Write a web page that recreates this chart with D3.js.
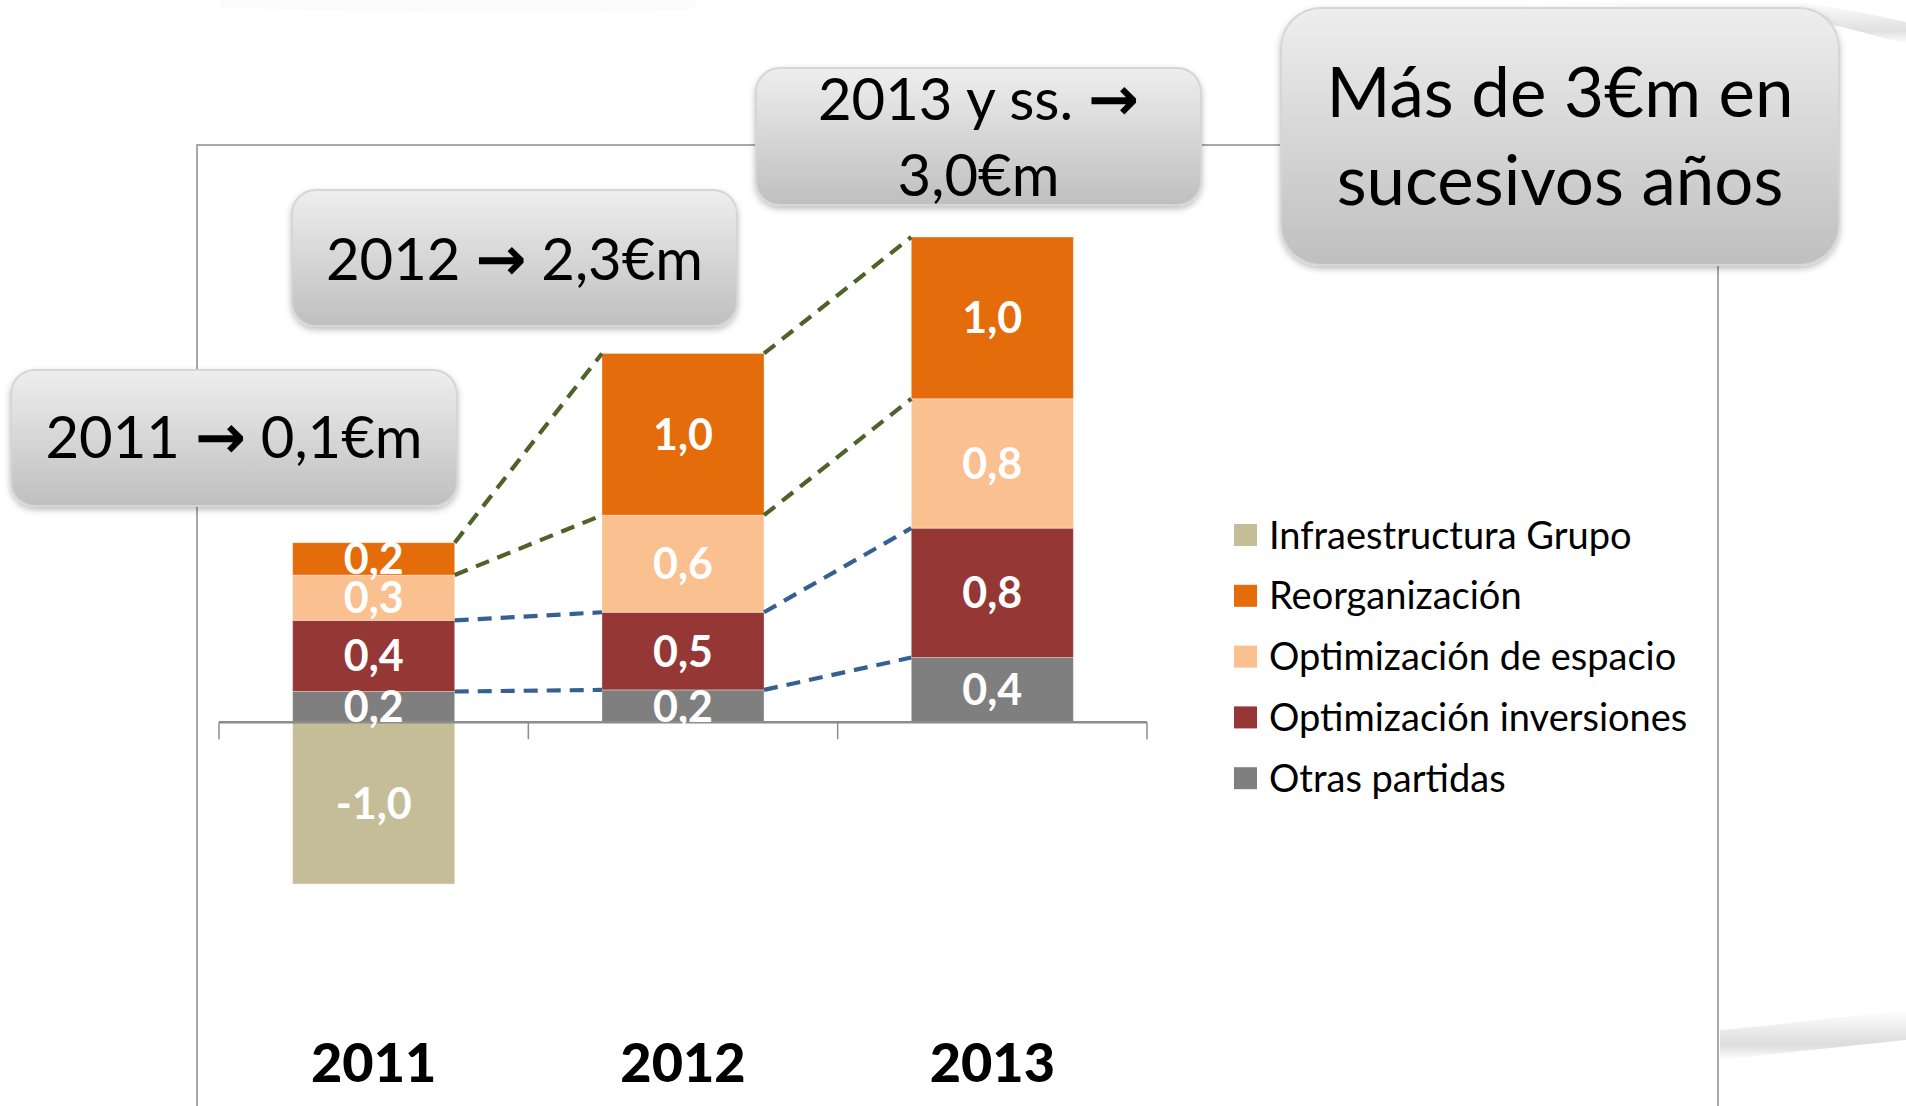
<!DOCTYPE html>
<html>
<head>
<meta charset="utf-8">
<script src="https://cdn.jsdelivr.net/npm/d3@7"></script>
<style>
  html, body { margin: 0; padding: 0; background: #ffffff; }
  svg { display: block; }
</style>
</head>
<body>
<svg id="chart" width="1906" height="1106"></svg>
<script>
// ---------------- DATA ----------------
const years = ["2011", "2012", "2013"];
const seriesNames = ["Otras partidas", "Optimización inversiones", "Optimización de espacio", "Reorganización", "Infraestructura Grupo"];
const otrasPartidas          = [0.19, 0.20, 0.40];
const optimizacionInversiones = [0.44, 0.48, 0.80];
const optimizacionEspacio    = [0.28, 0.60, 0.80];
const reorganizacion         = [0.20, 1.00, 1.00];
const infraestructuraGrupo   = [-1.00, 0.00, 0.00];
const legendOrder = ["Infraestructura Grupo", "Reorganización", "Optimización de espacio", "Optimización inversiones", "Otras partidas"];
const seriesColors = ["#7f7f7f", "#953735", "#fac090", "#e46c0a", "#c4bd97"];
const connectorColors = ["#376092", "#376092", "#4f6228", "#4f6228"];
const yDomain = [-1, 3];
const callouts = [
  { lines: [["2011 ", "→", " 0,1€m"]] },
  { lines: [["2012 ", "→", " 2,3€m"]] },
  { lines: [["2013 y ss. ", "→", ""], ["3,0€m", "", ""]] },
  { lines: [["Más de 3€m en", "", ""], ["sucesivos años", "", ""]] }
];

// ---------------- BUILD ----------------
const valuesByName = {
  "Otras partidas": otrasPartidas,
  "Optimización inversiones": optimizacionInversiones,
  "Optimización de espacio": optimizacionEspacio,
  "Reorganización": reorganizacion,
  "Infraestructura Grupo": infraestructuraGrupo
};
const table = years.map((y, i) => {
  const row = { year: y };
  seriesNames.forEach(n => row[n] = valuesByName[n][i]);
  return row;
});
const color = d3.scaleOrdinal().domain(seriesNames).range(seriesColors);

const svg = d3.select("#chart");
const defs = svg.append("defs");

const FONT = "Lato, 'Open Sans', sans-serif";

// background
svg.append("rect").attr("width", 1906).attr("height", 1106).attr("fill", "#fff");

// decorative swooshes
const g1 = defs.append("linearGradient").attr("id", "sw1").attr("x1", 0).attr("y1", 0).attr("x2", 0).attr("y2", 1);
g1.append("stop").attr("offset", "0%").attr("stop-color", "#ffffff");
g1.append("stop").attr("offset", "70%").attr("stop-color", "#d8d8d8");
g1.append("stop").attr("offset", "100%").attr("stop-color", "#ffffff");
svg.append("path")
  .attr("d", "M1720,1030 C1790,1024 1850,1016 1906,1010 L1906,1040 C1850,1046 1790,1052 1720,1060 Z")
  .attr("fill", "url(#sw1)").attr("opacity", 0.9);
svg.append("path")
  .attr("d", "M1470,0 L1780,0 C1830,6 1870,14 1906,22 L1906,44 C1870,34 1830,24 1800,16 C1700,8 1600,4 1470,0 Z")
  .attr("fill", "url(#sw1)").attr("opacity", 0.8);
svg.append("path")
  .attr("d", "M220,0 L700,0 L690,10 C520,14 380,12 220,8 Z")
  .attr("fill", "#f8f8f8").attr("opacity", 0.6);

// plot frame
svg.append("rect")
  .attr("x", 197).attr("y", 145).attr("width", 1521).attr("height", 1100)
  .attr("fill", "none").attr("stroke", "#8c8c8c").attr("stroke-width", 1.5);

// scales
const x = d3.scaleBand().domain(years).range([219, 1147]).paddingInner(0.476).paddingOuter(0.238);
const y = d3.scaleLinear().domain(yDomain).range([884, 237]);

// stack
const stack = d3.stack().keys(seriesNames).offset(d3.stackOffsetDiverging);
const stacked = stack(table);

// bars
const layers = svg.append("g").selectAll("g").data(stacked).join("g")
  .attr("fill", d => color(d.key));
layers.selectAll("rect").data(d => d.filter(s => s[1] !== s[0])).join("rect")
  .attr("x", d => x(d.data.year))
  .attr("width", x.bandwidth())
  .attr("y", d => y(Math.max(d[0], d[1])))
  .attr("height", d => Math.abs(y(d[0]) - y(d[1])))
  .attr("stroke", "rgba(255,255,255,0.35)").attr("stroke-width", 1);

// axis line with ticks at category boundaries
const axisG = svg.append("g").attr("transform", `translate(0,${y(0)})`);
const [r0, r1] = x.range();
axisG.append("line").attr("x1", r0).attr("x2", r1).attr("y1", 0).attr("y2", 0)
  .attr("stroke", "#8c8c8c").attr("stroke-width", 2.5);
const boundaries = d3.range(years.length + 1).map(i => r0 + i * x.step());
axisG.selectAll("line.tick").data(boundaries).join("line").attr("class", "tick")
  .attr("x1", d => d).attr("x2", d => d).attr("y1", 0).attr("y2", 17)
  .attr("stroke", "#8c8c8c").attr("stroke-width", 1.5);

// connectors (dashed)
const positiveKeys = seriesNames.slice(0, 4);
const connG = svg.append("g");
positiveKeys.forEach((key, k) => {
  const layer = stacked.find(s => s.key === key);
  for (let i = 0; i < years.length - 1; i++) {
    const a = layer[i], b = layer[i + 1];
    connG.append("line")
      .attr("x1", x(years[i]) + x.bandwidth()).attr("y1", y(a[1]))
      .attr("x2", x(years[i + 1])).attr("y2", y(b[1]))
      .attr("stroke", connectorColors[k]).attr("stroke-width", 4.2)
      .attr("stroke-dasharray", "14,9");
  }
});

// value labels
const fmt = v => d3.format(".1f")(v).replace(".", ",").replace("\u2212", "-");
const labG = svg.append("g");
stacked.forEach(layer => {
  layer.forEach(d => {
    const v = d.data[layer.key];
    if (v === 0) return;
    labG.append("text")
      .attr("x", x(d.data.year) + x.bandwidth() / 2)
      .attr("y", y((d[0] + d[1]) / 2))
      .attr("dy", "0.36em")
      .attr("text-anchor", "middle")
      .attr("fill", "#ffffff")
      .attr("font-family", FONT).attr("font-weight", 700).attr("font-size", 43)
      .text(fmt(v));
  });
});

// year labels
svg.append("g").selectAll("text").data(years).join("text")
  .attr("x", d => x(d) + x.bandwidth() / 2)
  .attr("y", 1082)
  .attr("text-anchor", "middle")
  .attr("font-family", FONT).attr("font-weight", 900).attr("font-size", 54)
  .attr("fill", "#000")
  .text(d => d);

// legend
const legG = svg.append("g").attr("transform", "translate(1234,535)");
const legItems = legG.selectAll("g").data(legendOrder).join("g")
  .attr("transform", (d, i) => `translate(0,${i * 60.8})`);
legItems.append("rect").attr("x", 0).attr("y", -11).attr("width", 23).attr("height", 22)
  .attr("fill", d => color(d));
legItems.append("text").attr("x", 35).attr("y", 0).attr("dy", "0.36em")
  .attr("font-family", FONT).attr("font-size", 38).attr("fill", "#000")
  .text(d => d);

// callout boxes
const grad = defs.append("linearGradient").attr("id", "boxg").attr("x1", 0).attr("y1", 0).attr("x2", 0).attr("y2", 1);
grad.append("stop").attr("offset", "0%").attr("stop-color", "#eeeeee");
grad.append("stop").attr("offset", "100%").attr("stop-color", "#bfbfbf");
const sh = defs.append("filter").attr("id", "shadow").attr("x", "-10%").attr("y", "-10%").attr("width", "120%").attr("height", "130%");
sh.append("feDropShadow").attr("dx", 0).attr("dy", 3).attr("stdDeviation", 3).attr("flood-color", "#000").attr("flood-opacity", 0.25);

const boxGeom = [
  { x: 11, y: 370, w: 446, h: 136, r: 24, fs: 58, base: [458] },
  { x: 292, y: 190, w: 445, h: 136, r: 24, fs: 58, base: [280] },
  { x: 756, y: 68, w: 445, h: 137, r: 24, fs: 58, base: [120, 196] },
  { x: 1281, y: 8, w: 558, h: 257, r: 40, fs: 69, base: [117, 205] }
];
callouts.forEach((c, i) => {
  const b = boxGeom[i];
  const g = svg.append("g");
  g.append("rect").attr("x", b.x).attr("y", b.y).attr("width", b.w).attr("height", b.h)
    .attr("rx", b.r).attr("ry", b.r)
    .attr("fill", "url(#boxg)").attr("stroke", "#d6d6d6").attr("stroke-width", 2)
    .attr("filter", "url(#shadow)");
  c.lines.forEach((ln, j) => {
    const t = g.append("text")
      .attr("x", b.x + b.w / 2).attr("y", b.base[j])
      .attr("text-anchor", "middle")
      .attr("font-family", FONT).attr("font-size", b.fs).attr("fill", "#000");
    t.append("tspan").text(ln[0]);
    if (ln[1]) t.append("tspan").attr("font-weight", 700).attr("font-family", "'DejaVu Sans', sans-serif").attr("font-size", b.fs * 1.05).text(ln[1]);
    if (ln[2]) t.append("tspan").text(ln[2]);
  });
});
</script>
</body>
</html>
